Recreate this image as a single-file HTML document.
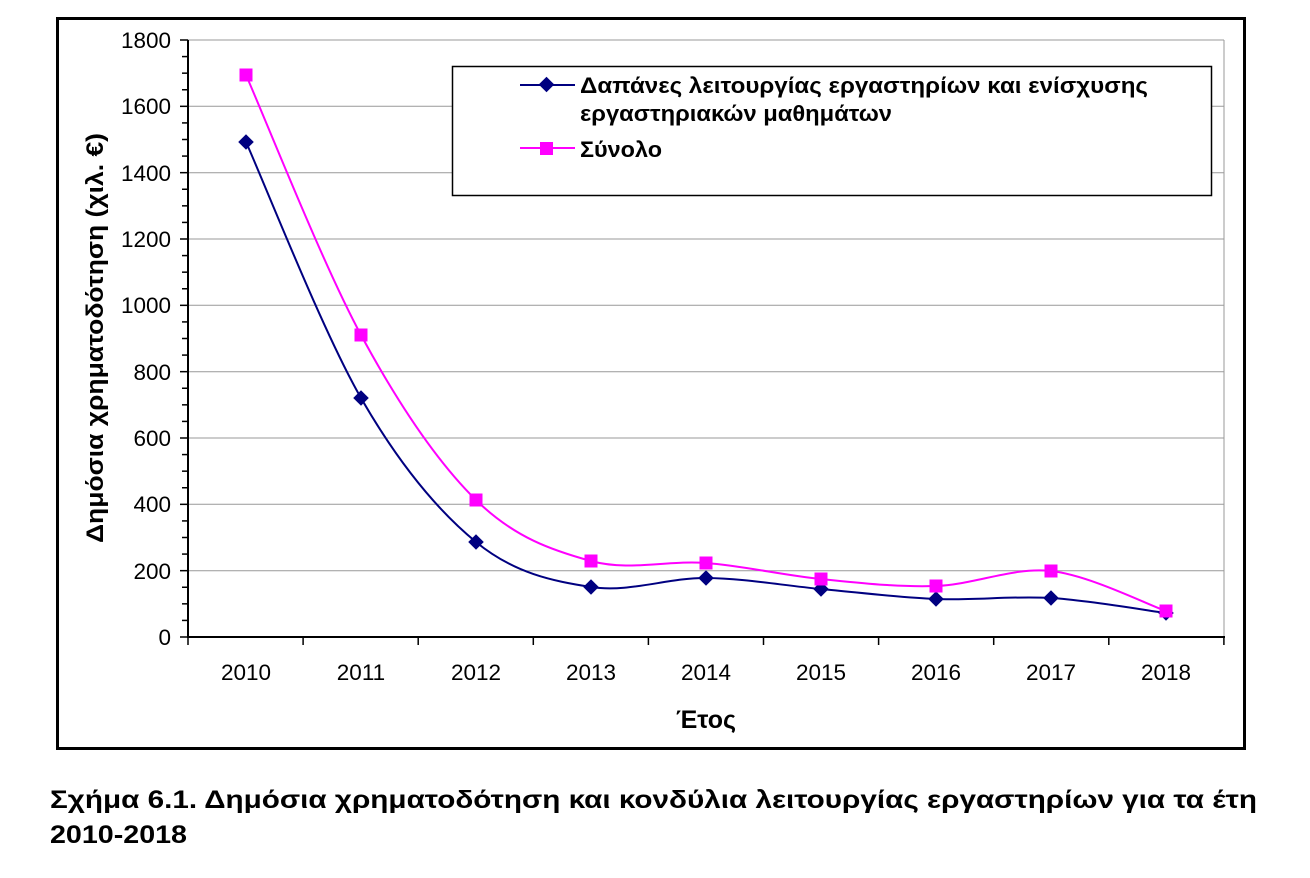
<!DOCTYPE html>
<html><head><meta charset="utf-8"><style>
body{margin:0;background:#fff;width:1310px;height:878px;overflow:hidden}
svg{display:block}
text{font-family:"Liberation Sans",sans-serif}
</style></head><body>
<svg width="1310" height="878" viewBox="0 0 1310 878">
<rect x="57.5" y="18.5" width="1187" height="730" fill="#fff" stroke="#000" stroke-width="3"/>
<g stroke="#999" stroke-width="1">
<line x1="188" y1="40" x2="1224" y2="40"/>
<line x1="188" y1="106.3" x2="1224" y2="106.3"/>
<line x1="188" y1="172.7" x2="1224" y2="172.7"/>
<line x1="188" y1="239" x2="1224" y2="239"/>
<line x1="188" y1="305.3" x2="1224" y2="305.3"/>
<line x1="188" y1="371.7" x2="1224" y2="371.7"/>
<line x1="188" y1="438" x2="1224" y2="438"/>
<line x1="188" y1="504.3" x2="1224" y2="504.3"/>
<line x1="188" y1="570.7" x2="1224" y2="570.7"/>
<line x1="1224" y1="40" x2="1224" y2="637"/>
</g>
<g stroke="#000" stroke-width="2">
<line x1="188" y1="40" x2="188" y2="638"/>
<line x1="187" y1="637" x2="1225" y2="637"/>
</g>
<g stroke="#000" stroke-width="1.5" id="t"></g>
<g font-size="22.5" text-anchor="end" fill="#000">
<text x="171" y="48">1800</text><text x="171" y="114">1600</text><text x="171" y="181">1400</text>
<text x="171" y="247">1200</text><text x="171" y="313">1000</text><text x="171" y="380">800</text>
<text x="171" y="446">600</text><text x="171" y="512">400</text><text x="171" y="579">200</text>
<text x="171" y="645">0</text>
</g>
<g font-size="22.5" text-anchor="middle">
<text x="246" y="680">2010</text><text x="361" y="680">2011</text><text x="476" y="680">2012</text>
<text x="591" y="680">2013</text><text x="706" y="680">2014</text><text x="821" y="680">2015</text>
<text x="936" y="680">2016</text><text x="1051" y="680">2017</text><text x="1166" y="680">2018</text>
<text x="706" y="728" font-size="25" font-weight="bold">Έτος</text>
</g>
<text transform="translate(103,338) rotate(-90)" font-size="24" font-weight="bold" text-anchor="middle" textLength="410" lengthAdjust="spacingAndGlyphs">Δημόσια χρηματοδότηση (χιλ. €)</text>
<rect x="452.5" y="66.5" width="759" height="129" fill="#fff" stroke="#000" stroke-width="1.5"/>
<line x1="520" y1="85" x2="575" y2="85" stroke="#000080" stroke-width="2"/>
<rect x="541" y="79" width="11" height="11" fill="#000080" transform="rotate(45 546.5 84.5)"/>
<line x1="520" y1="148" x2="575" y2="148" stroke="#ff00ff" stroke-width="2"/>
<rect x="540" y="142" width="13" height="13" fill="#ff00ff"/>
<g font-size="22" font-weight="bold">
<text x="580" y="93" textLength="568" lengthAdjust="spacingAndGlyphs">Δαπάνες λειτουργίας εργαστηρίων και ενίσχυσης</text>
<text x="580" y="121" textLength="312" lengthAdjust="spacingAndGlyphs">εργαστηριακών μαθημάτων</text>
<text x="580" y="157" textLength="82" lengthAdjust="spacingAndGlyphs">Σύνολο</text>
</g>
<path id="b" fill="none" stroke="#000080" stroke-width="2"/>
<path id="p" fill="none" stroke="#ff00ff" stroke-width="2"/>
<g id="m"></g>
<text x="50" y="808" font-size="25" font-weight="bold" textLength="1207" lengthAdjust="spacingAndGlyphs">Σχήμα 6.1. Δημόσια χρηματοδότηση και κονδύλια λειτουργίας εργαστηρίων για τα έτη</text>
<text x="50" y="843" font-size="25" font-weight="bold" textLength="137" lengthAdjust="spacingAndGlyphs">2010-2018</text>
</svg>
<script>
var ns="http://www.w3.org/2000/svg";
var t=document.getElementById('t');
function L(a,b,c,d){var l=document.createElementNS(ns,'line');l.setAttribute('x1',a);l.setAttribute('y1',b);l.setAttribute('x2',c);l.setAttribute('y2',d);t.appendChild(l);}
for(var i=0;i<=36;i++){var y=637-i*597/36;L(i%4==0?180:182,y,188,y);}
for(var i=0;i<=9;i++){var x=188+i*115.1;L(x,637,x,645);}
var X=[246,361,476,591,706,821,936,1051,1166];
var B=[142,398,542,587,578,589,599,598,613];
var P=[75,335,500,561,563,579,586,571,611];
function path(Y){var d="M"+X[0]+","+Y[0];for(var i=0;i<8;i++){var p0=[X[Math.max(i-1,0)],Y[Math.max(i-1,0)]],p1=[X[i],Y[i]],p2=[X[i+1],Y[i+1]],p3=[X[Math.min(i+2,8)],Y[Math.min(i+2,8)]];var k=0.5/3;d+=" C"+(p1[0]+(p2[0]-p0[0])*k)+","+(p1[1]+(p2[1]-p0[1])*k)+" "+(p2[0]-(p3[0]-p1[0])*k)+","+(p2[1]-(p3[1]-p1[1])*k)+" "+p2[0]+","+p2[1];}return d;}
document.getElementById('b').setAttribute('d',path(B));
document.getElementById('p').setAttribute('d',path(P));
var m=document.getElementById('m');
for(var i=0;i<9;i++){var r=document.createElementNS(ns,'rect');r.setAttribute('x',X[i]-5.5);r.setAttribute('y',B[i]-5.5);r.setAttribute('width',11);r.setAttribute('height',11);r.setAttribute('fill','#000080');r.setAttribute('transform','rotate(45 '+X[i]+' '+B[i]+')');m.appendChild(r);}
for(var i=0;i<9;i++){var r=document.createElementNS(ns,'rect');r.setAttribute('x',X[i]-6.5);r.setAttribute('y',P[i]-6.5);r.setAttribute('width',13);r.setAttribute('height',13);r.setAttribute('fill','#ff00ff');m.appendChild(r);}
</script>
</body></html>
